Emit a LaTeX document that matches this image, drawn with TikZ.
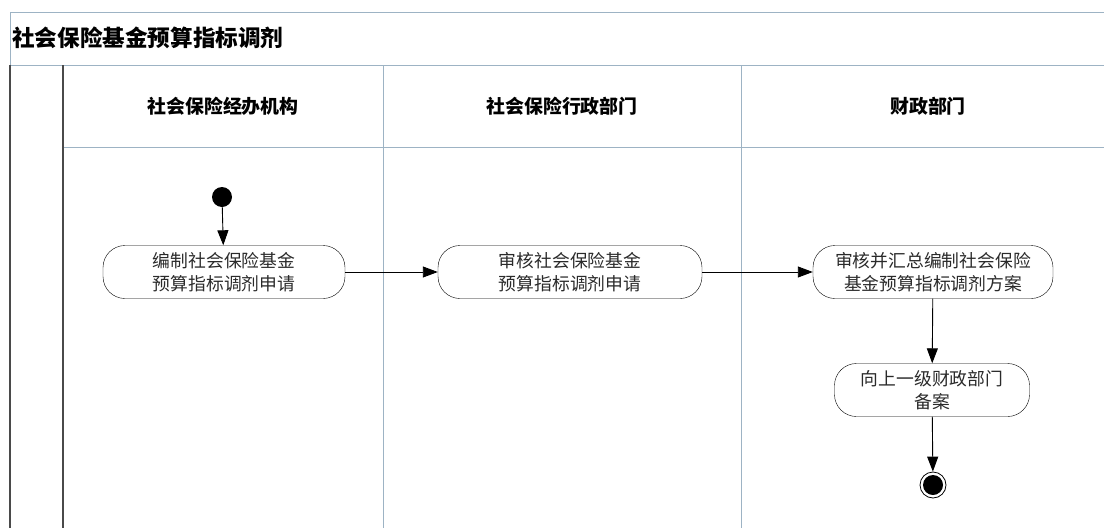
\documentclass[tikz,border=0pt]{standalone}
\usepackage{fontspec}
\setmainfont{Noto Sans CJK SC}
\usetikzlibrary{arrows.meta,positioning}
\definecolor{lanecol}{HTML}{9DB3C4}
\definecolor{framecol}{HTML}{4A4A4A}
\definecolor{textcol}{HTML}{2A2A2A}

\begin{document}
\begin{tikzpicture}[x=1pt,y=-1pt,
  act/.style={draw,rounded corners=22pt,minimum height=53pt,align=center,
    inner sep=2pt,text=textcol,font=\fontsize{17.8}{22.5}\selectfont},
  head/.style={font=\bfseries\fontsize{18.9}{21}\selectfont},
  flow/.style={-{Triangle[length=15pt,width=11pt]},line width=0.9pt},
  lane/.style={draw=lanecol,line width=0.8pt},
  frame/.style={draw=framecol,line width=1.2pt}]
	\useasboundingbox (0,0) rectangle (1104,528);
	% pool and lanes
	\draw[lane] (10,65) -- (10,12) -- (1104,12);
	\draw[lane] (10,65) -- (1104,65);
	\draw[lane] (63,147) -- (1104,147);
	\draw[lane] (383,65) -- (383,528);
	\draw[lane] (741,65) -- (741,528);
	\draw[frame] (10,65) -- (10,528);
	\draw[frame] (63,65) -- (63,528);
	\node[anchor=west,inner sep=0pt,font=\bfseries\fontsize{22.6}{25}\selectfont] (title) at (12,38) {社会保险基金预算指标调剂};
	\node[head] (agency) at (223,106) {社会保险经办机构};
	\node[head] (admin) at (562,106) {社会保险行政部门};
	\node[head] (finance) at (928,106) {财政部门};
	% activities
	\node[circle,fill=black,minimum size=20pt,inner sep=0pt] (start) at (222,197) {};
	\node[act,minimum width=242pt] (apply) at (224,272) {编制社会保险基金\\预算指标调剂申请};
	\node[act,minimum width=264pt] (review) at (570,272) {审核社会保险基金\\预算指标调剂申请};
	\node[act,minimum width=240pt] (plan) at (933,272) {审核并汇总编制社会保险\\基金预算指标调剂方案};
	\node[act,minimum width=195pt] (file) at (932,390) {向上一级财政部门\\备案};
	\node[circle,draw,minimum size=26pt,inner sep=0pt,line width=0.8pt] (end) at (933,485) {};
	\node[circle,fill=black,minimum size=20pt,inner sep=0pt] (endin) at (end) {};
	% flows
	\draw[flow] (start) -- (apply);
	\draw[flow] (apply) -- (review);
	\draw[flow] (review) -- (plan);
	\draw[flow] (plan) -- (file);
	\draw[flow] (file) -- (end);
\end{tikzpicture}
\end{document}
